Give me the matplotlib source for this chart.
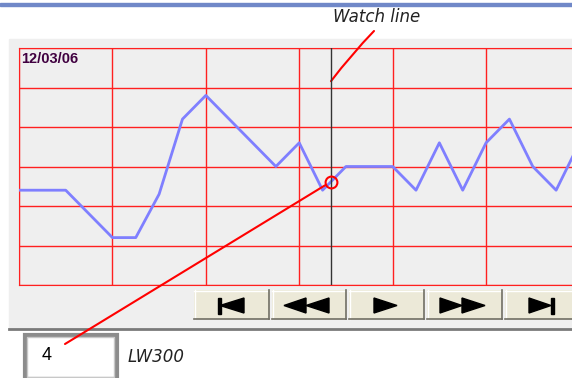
import numpy as np
import matplotlib.pyplot as plt
from matplotlib.patches import Rectangle, Polygon

# trend samples (one every quarter grid division)
sample_idx = list(range(25))
trend_values = [24, 24, 24, 18, 12, 12, 23, 42, 48, 42, 36, 30, 36, 24, 30, 30,
                30, 24, 36, 24, 36, 42, 30, 24, 36]
watch_pos = 13.36
date_label = '12/03/06'
watch_value = '4'
address_label = 'LW300'

fig = plt.figure(figsize=(5.72, 3.78), dpi=100)

# background layer in screen pixels
bg = fig.add_axes([0, 0, 1, 1], zorder=0)
bg.set_xlim(0, 572)
bg.set_ylim(378, 0)
bg.axis('off')

bg.add_patch(Rectangle((0, 2.5), 572, 3, color='#7088c8'))
bg.add_patch(Rectangle((9, 39), 563, 290, color='#efefef'))
bg.plot([9, 572], [329, 329], color='#7a7a7a', lw=2)

# navigation buttons
buttons = [(194, 269), (272, 346), (349, 424), (427, 502), (505, 580)]
for x0, x1 in buttons:
    bg.add_patch(Rectangle((x0, 290), x1 - x0, 29, facecolor='#ece9d8', edgecolor='none'))
    bg.plot([x0, x1], [290.5, 290.5], color='white', lw=1)
    bg.plot([x0 + 0.5, x0 + 0.5], [290, 319], color='white', lw=1)
    bg.plot([x0, x1], [318.5, 318.5], color='#716f64', lw=1.2)
    bg.plot([x1 - 0.5, x1 - 0.5], [290, 319], color='#716f64', lw=1.2)

cy = 305.5
h = 7.5
def tri(base, tip):
    bg.add_patch(Polygon([(base, cy - h), (base, cy + h), (tip, cy)], color='black'))

bg.add_patch(Rectangle((217.5, cy - 8), 3.5, 16, color='black'))
tri(244, 220)
tri(306, 284)
tri(329, 306)
tri(374, 397)
tri(440, 462)
tri(462, 485)
tri(529, 551)
bg.add_patch(Rectangle((550.5, cy - 8), 3.5, 16, color='black'))

# value box
bg.add_patch(Rectangle((24.5, 334.5), 92, 44, facecolor='white', edgecolor='#8c8c8c', lw=3))
bg.add_patch(Rectangle((27, 337), 87, 40, facecolor='none', edgecolor='#c8c8c8', lw=1))
bg.text(42, 355, watch_value, fontsize=13, family='Liberation Sans', va='center', color='black')
bg.text(128, 357, address_label, fontsize=12, style='italic', family='DejaVu Sans',
        va='center', color='#222222')

bg.text(333, 17, 'Watch line', fontsize=12, style='italic', family='DejaVu Sans',
        va='center', color='#222222')

# trend chart
ax = fig.add_axes([19 / 572, 93 / 378, 553 / 572, 237 / 378], zorder=1)
ax.set_facecolor('#efefef')
ax.set_xlim(0, 23.68)
ax.set_ylim(0, 60)
ax.set_xticks(np.arange(0, 24, 4))
ax.set_yticks(np.arange(0, 61, 10))
ax.grid(True, color='#ff2020', lw=1)
ax.tick_params(length=0, labelbottom=False, labelleft=False)
for side in ['left', 'top', 'bottom']:
    ax.spines[side].set_color('#ff2020')
ax.spines['right'].set_visible(False)

ax.plot(sample_idx, trend_values, color='#7f7fff', lw=2, zorder=3)
ax.axvline(watch_pos, color='#333333', lw=1, zorder=4)

watch_y = np.interp(watch_pos, sample_idx, trend_values)
ax.plot(watch_pos, watch_y, marker='o', mfc='none', mec='red', ms=8.5, mew=1.5, zorder=5)

ax.text(0.003, 0.955, date_label, transform=ax.transAxes, fontsize=10.5, fontweight='bold',
        family='Liberation Sans', color='#400040', va='center')

ax.annotate('', xy=(watch_pos, watch_y), xytext=(65, 344), textcoords=bg.transData,
            arrowprops=dict(arrowstyle='-', color='red', lw=1.5, shrinkA=0, shrinkB=5),
            annotation_clip=False)
ax.annotate('', xy=(watch_pos, 51.6), xytext=(374, 31), textcoords=bg.transData,
            arrowprops=dict(arrowstyle='-', color='red', lw=1.5, shrinkA=0, shrinkB=0,
                            connectionstyle='arc3,rad=0.03'),
            annotation_clip=False)

fig.savefig('out.png', dpi=100)
